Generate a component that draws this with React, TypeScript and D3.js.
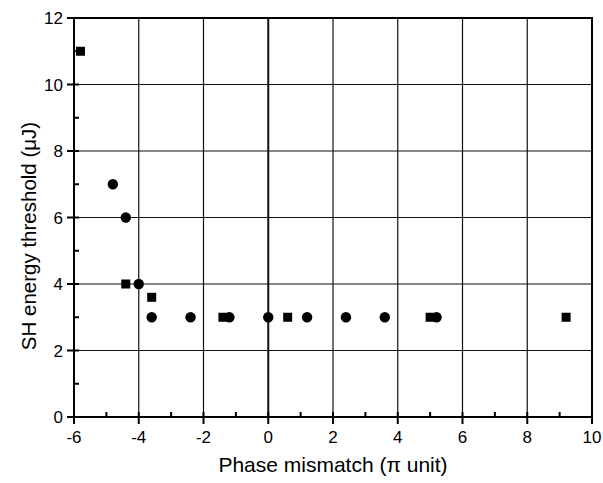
import React from 'react';
import * as d3 from 'd3';

// phase mismatch (pi unit) vs SH energy threshold (uJ)
const squareX = [-5.8, -4.4, -3.6, -1.4, 0.6, 5.0, 9.2];
const squareY = [11, 4, 3.6, 3, 3, 3, 3];
const circleX = [-4.8, -4.4, -4.0, -3.6, -2.4, -1.2, 0, 1.2, 2.4, 3.6, 5.2];
const circleY = [7, 6, 4, 3, 3, 3, 3, 3, 3, 3, 3];

const xTicks = [-6, -4, -2, 0, 2, 4, 6, 8, 10];
const yTicks = [0, 2, 4, 6, 8, 10, 12];
const xMinor = [-5, -3, -1, 1, 3, 5, 7, 9];
const yMinor = [1, 3, 5, 7, 9, 11];

const W = 603;
const H = 483;
const margin = { top: 18, right: 11, bottom: 66, left: 74 };

const App = () => {
  const x = d3.scaleLinear().domain([-6, 10]).range([margin.left, W - margin.right]);
  const y = d3.scaleLinear().domain([0, 12]).range([H - margin.bottom, margin.top]);
  const x0 = x(-6), x1 = x(10), y0 = y(0), y1 = y(12);
  const font = 'Liberation Sans, Arial, sans-serif';

  return (
    <svg
      width={W}
      height={H}
      style={{ position: 'absolute', left: 0, top: 0, background: 'white' }}
    >
      {/* grid */}
      {xTicks.map((t) => (
        <line key={'gx' + t} x1={x(t)} x2={x(t)} y1={y0} y2={y1} stroke="#111" strokeWidth={t === 0 ? 2 : 1.2} />
      ))}
      {yTicks.map((t) => (
        <line key={'gy' + t} x1={x0} x2={x1} y1={y(t)} y2={y(t)} stroke="#111" strokeWidth={1.2} />
      ))}
      {/* frame */}
      <rect x={x0} y={y1} width={x1 - x0} height={y0 - y1} fill="none" stroke="#000" strokeWidth={2} />

      {/* ticks */}
      {xTicks.map((t) => (
        <line key={'tx' + t} x1={x(t)} x2={x(t)} y1={y0 - 5} y2={y0 + 7} stroke="#000" strokeWidth={2} />
      ))}
      {xMinor.map((t) => (
        <line key={'mx' + t} x1={x(t)} x2={x(t)} y1={y0} y2={y0 - 5} stroke="#000" strokeWidth={2} />
      ))}
      {yTicks.map((t) => (
        <line key={'ty' + t} x1={x0 - 7} x2={x0 + 5} y1={y(t)} y2={y(t)} stroke="#000" strokeWidth={2} />
      ))}
      {yMinor.map((t) => (
        <line key={'my' + t} x1={x0} x2={x0 + 5} y1={y(t)} y2={y(t)} stroke="#000" strokeWidth={2} />
      ))}

      {/* tick labels */}
      {xTicks.map((t) => (
        <text key={'lx' + t} x={x(t)} y={y0 + 26} textAnchor="middle" fontFamily={font} fontSize={17} fill="#000">
          {t}
        </text>
      ))}
      {yTicks.map((t) => (
        <text key={'ly' + t} x={x0 - 11} y={y(t) + 6} textAnchor="end" fontFamily={font} fontSize={17} fill="#000">
          {t}
        </text>
      ))}

      {/* axis titles */}
      <text x={(x0 + x1) / 2} y={472} textAnchor="middle" fontFamily={font} fontSize={21} fill="#000">
        Phase mismatch (π unit)
      </text>
      <text
        transform={`translate(36,236) rotate(-90)`}
        textAnchor="middle"
        fontFamily={font}
        fontSize={20.5}
        fill="#000"
      >
        SH energy threshold (μJ)
      </text>

      {/* markers */}
      {squareX.map((v, i) => (
        <rect key={'s' + i} x={x(v) - 4.5} y={y(squareY[i]) - 4.5} width={9} height={9} fill="#000" />
      ))}
      {circleX.map((v, i) => (
        <circle key={'c' + i} cx={x(v)} cy={y(circleY[i])} r={5.2} fill="#000" />
      ))}
    </svg>
  );
};

export default App;
